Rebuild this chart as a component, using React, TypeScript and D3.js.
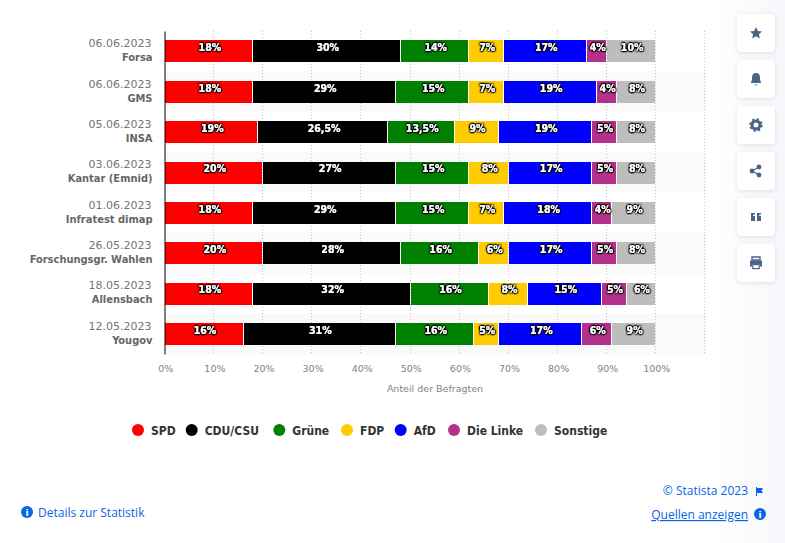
import React, { useEffect, useRef } from "react";
import { select, scaleLinear, scaleBand, stack, axisBottom, axisLeft, range } from "d3";

const width = 785,
  height = 543;

const dates = ["06.06.2023", "06.06.2023", "05.06.2023", "03.06.2023", "01.06.2023", "26.05.2023", "18.05.2023", "12.05.2023"];
const institutes = ["Forsa", "GMS", "INSA", "Kantar (Emnid)", "Infratest dimap", "Forschungsgr. Wahlen", "Allensbach", "Yougov"];

const parties = ["SPD", "CDU/CSU", "Grüne", "FDP", "AfD", "Die Linke", "Sonstige"];
const colors = ["#ff0000", "#000000", "#008000", "#ffcc00", "#0000ff", "#b3308b", "#bdbdbd"];

const spd = [18, 18, 19, 20, 18, 20, 18, 16];
const cdu = [30, 29, 26.5, 27, 29, 28, 32, 31];
const gruene = [14, 15, 13.5, 15, 15, 16, 16, 16];
const fdp = [7, 7, 9, 8, 7, 6, 8, 5];
const afd = [17, 19, 19, 17, 18, 17, 15, 17];
const linke = [4, 4, 5, 5, 4, 5, 5, 6];
const sonstige = [10, 8, 8, 8, 9, 8, 6, 9];
const seriesValues = [spd, cdu, gruene, fdp, afd, linke, sonstige];

const xTicks = [0, 10, 20, 30, 40, 50, 60, 70, 80, 90, 100];
const gridTicks = [10, 20, 30, 40, 50, 60, 70, 80, 90, 100, 110];
const legendX = [138, 191.7, 279.3, 347, 400.7, 454, 541];
const buttonY = [14, 60, 106, 152, 198, 244];

const FONT = "'DejaVu Sans', Verdana, sans-serif";
const BOLD = "'DejaVu Sans Condensed', 'DejaVu Sans', sans-serif";
const FOOT = "'Open Sans', sans-serif";
const BLUE = "#0666e5";
const ICON = "#4a6585";

const left = 165,
  right = 705.1,
  top = 31,
  bottom = 354;

function App() {
  const svgRef = useRef<SVGSVGElement>(null);

  useEffect(() => {
    const svg = select(svgRef.current);

    const xScale = scaleLinear().domain([0, 110]).range([left, right]);
    const yScale = scaleBand<number>().domain(range(institutes.length)).range([top, bottom]);

    // zebra rows
    svg.select(".bands")
      .selectAll("rect")
      .data(range(institutes.length).filter((i) => i % 2 === 1))
      .join("rect")
      .attr("x", 165)
      .attr("y", (i) => Math.round(yScale(i)!))
      .attr("width", right - 164)
      .attr("height", Math.round(yScale.bandwidth()) + 0.5)
      .attr("fill", "#fafafa");

    // dotted grid
    svg.select(".grid")
      .selectAll("line")
      .data(gridTicks)
      .join("line")
      .attr("x1", (d) => Math.round(xScale(d)) - 0.5)
      .attr("x2", (d) => Math.round(xScale(d)) - 0.5)
      .attr("y1", top)
      .attr("y2", bottom)
      .attr("stroke", "#c4c4c4")
      .attr("stroke-dasharray", "1 2");

    const rows = range(institutes.length).map((i) => {
      const row: Record<string, number> = {};
      parties.forEach((p, k) => (row[p] = seriesValues[k][i]));
      return row;
    });
    const stacked = stack<Record<string, number>>().keys(parties)(rows);

    const barH = 22;
    const groups = svg.select(".bars")
      .selectAll("g")
      .data(stacked)
      .join("g")
      .attr("fill", (_, k) => colors[k]);

    // one px white gap after each segment, snapped to the pixel grid
    groups.selectAll("rect")
      .data((s) => s.map((d, i) => ({ d, i })))
      .join("rect")
      .attr("x", ({ d }) => Math.round(xScale(d[0])))
      .attr("y", ({ i }) => Math.round(yScale(i)! + (yScale.bandwidth() - barH) / 2 + 0.2))
      .attr("width", ({ d }) => Math.round(xScale(d[1])) - Math.round(xScale(d[0])) - 1)
      .attr("height", barH);

    const labels = stacked.flatMap((s) =>
      s.map((d, i) => ({ value: d[1] - d[0], mid: (d[0] + d[1]) / 2, i }))
    );
    svg.select(".labels")
      .selectAll("text")
      .data(labels)
      .join("text")
      .attr("x", (d) => xScale(d.mid) + 0.7)
      .attr("y", (d) => yScale(d.i)! + yScale.bandwidth() / 2)
      .attr("text-anchor", "middle")
      .attr("fill", "#fff")
      .attr("font-family", BOLD)
      .attr("font-size", 10.5)
      .attr("font-weight", 700)
      .attr("filter", "url(#outline)")
      .text((d) => String(d.value).replace(".", ",") + "%");

    // y axis with date and institute
    const yAxis = axisLeft(yScale).tickSize(0).tickFormat(() => "");
    const yG = svg.select<SVGGElement>(".y-axis").attr("transform", "translate(164.5,0)").call(yAxis);
    yG.select(".domain").attr("stroke", "#000").attr("stroke-width", 1);
    yG.selectAll(".tick text").remove();
    yG.selectAll<SVGGElement, number>(".tick").each(function (i) {
      const t = select(this);
      t.append("text")
        .attr("x", -13)
        .attr("y", -4)
        .attr("text-anchor", "end")
        .attr("fill", "#757575")
        .attr("font-family", FONT)
        .attr("font-size", 11)
        .text(dates[i]);
      t.append("text")
        .attr("x", -12)
        .attr("y", 10)
        .attr("text-anchor", "end")
        .attr("fill", "#666")
        .attr("font-family", BOLD)
        .attr("font-size", 11)
        .attr("font-weight", 700)
        .text(institutes[i]);
    });

    // x axis
    const xAxis = axisBottom(xScale).tickValues(xTicks).tickSize(0).tickFormat((d) => d + "%");
    const xG = svg.select<SVGGElement>(".x-axis").attr("transform", `translate(0.3,${bottom})`).call(xAxis);
    xG.select(".domain").remove();
    xG.selectAll("text")
      .attr("y", 11)
      .attr("dy", "0.71em")
      .attr("fill", "#828282")
      .attr("font-family", FONT)
      .attr("font-size", 9.5);

    // legend
    const legend = svg.select(".legend")
      .selectAll("g")
      .data(parties)
      .join("g")
      .attr("transform", (_, k) => `translate(${legendX[k]},430)`);
    legend.selectAll("circle")
      .data((_, k) => [k] as any)
      .join("circle")
      .attr("r", 6)
      .attr("fill", (k: any) => colors[k]);
    legend.selectAll("text")
      .data((p) => [p])
      .join("text")
      .attr("x", 13)
      .attr("y", 4.5)
      .attr("fill", "#333")
      .attr("font-family", BOLD)
      .attr("font-size", 12)
      .attr("font-weight", 700)
      .text((p) => p);

    // sidebar buttons
    svg.select(".buttons")
      .selectAll("rect")
      .data(buttonY)
      .join("rect")
      .attr("x", 737)
      .attr("y", (d) => d)
      .attr("width", 38)
      .attr("height", 38)
      .attr("rx", 4)
      .attr("fill", "#fff")
      .attr("filter", "url(#btnShadow)");
  }, []);

  return (
    <svg ref={svgRef} width={width} height={height} style={{ position: "absolute", left: 0, top: 0, background: "#fff" }}>
      <defs>
        <linearGradient id="side" x1="0" x2="1" y1="0" y2="0">
          <stop offset="0" stopColor="#fff" />
          <stop offset="1" stopColor="#f5f7fa" />
        </linearGradient>
        <filter id="outline" x="-30%" y="-40%" width="160%" height="180%">
          <feGaussianBlur in="SourceAlpha" stdDeviation="1.1" result="blur" />
          <feComponentTransfer in="blur" result="dark">
            <feFuncA type="linear" slope="4" />
          </feComponentTransfer>
          <feMerge>
            <feMergeNode in="dark" />
            <feMergeNode in="SourceGraphic" />
          </feMerge>
        </filter>
        <filter id="btnShadow" x="-30%" y="-30%" width="160%" height="160%">
          <feDropShadow dx="0" dy="1" stdDeviation="2" floodColor="#8fa0b5" floodOpacity="0.3" />
        </filter>
      </defs>
      <rect x={715} y={0} width={70} height={height} fill="url(#side)" />
      <g className="bands" />
      <g className="grid" />
      <g className="bars" />
      <g className="labels" />
      <g className="y-axis" />
      <g className="x-axis" />
      <text x={435} y={392} textAnchor="middle" fill="#828282" fontFamily={FONT} fontSize={9.5}>
        Anteil der Befragten
      </text>
      <g className="legend" />
      <g className="buttons" />

      {/* sidebar icons */}
      <path transform="translate(756,33)" fill={ICON} d="M0,-6 L1.8,-2 L6,-1.6 L2.9,1.2 L3.8,5.4 L0,3.2 L-3.8,5.4 L-2.9,1.2 L-6,-1.6 L-1.8,-2 Z" />
      <path transform="translate(756,79)" fill={ICON} d="M0,-6 C3.2,-6 4,-3.5 4,-1 C4,1.5 5,3 5.2,4 L-5.2,4 C-5,3 -4,1.5 -4,-1 C-4,-3.5 -3.2,-6 0,-6 Z M-1.5,5.5 L1.5,5.5 L1.5,6.2 L-1.5,6.2 Z" />
      <g transform="translate(756,125)">
        <circle r={4} fill="none" stroke={ICON} strokeWidth={3} />
        <circle r={6} fill="none" stroke={ICON} strokeWidth={1.6} strokeDasharray="2.4 2.3" />
      </g>
      <g transform="translate(756,171)" fill={ICON} stroke={ICON}>
        <line x1={-4} y1={0} x2={3} y2={-4} strokeWidth={1.3} />
        <line x1={-4} y1={0} x2={3} y2={4} strokeWidth={1.3} />
        <circle cx={-4} cy={0} r={2.4} stroke="none" />
        <circle cx={3} cy={-4} r={2.4} stroke="none" />
        <circle cx={3} cy={4} r={2.4} stroke="none" />
      </g>
      <path transform="translate(756,217)" fill={ICON} d="M-5,-4 L-1,-4 L-1,-2.8 Q-3,-2.8 -3,-1 L-1,-1 L-1,4 L-5,4 Z M1,-4 L5,-4 L5,-2.8 Q3,-2.8 3,-1 L5,-1 L5,4 L1,4 Z" />
      <g transform="translate(756,263)" fill={ICON}>
        <path d="M-4,-6 L4,-6 L4,-3 L-4,-3 Z" fill="none" stroke={ICON} strokeWidth={1.4} />
        <path d="M-6,-2.5 L6,-2.5 L6,3.5 L4,3.5 L4,1 L-4,1 L-4,3.5 L-6,3.5 Z" />
        <rect x={-3.2} y={1.6} width={6.4} height={4} fill="none" stroke={ICON} strokeWidth={1.2} />
      </g>

      {/* footer */}
      <g transform="translate(27,512)">
        <circle r={6} fill={BLUE} />
        <text y={3.5} textAnchor="middle" fill="#fff" fontFamily={FONT} fontSize={9} fontWeight={700}>i</text>
      </g>
      <text x={38} y={517} fill={BLUE} fontFamily={FOOT} fontSize={12}>Details zur Statistik</text>
      <text x={748} y={495} textAnchor="end" fill={BLUE} fontFamily={FOOT} fontSize={12}>© Statista 2023</text>
      <path transform="translate(756,487)" fill={BLUE} d="M0,0 L1,0 L1,1 L7,1 L5.5,3.5 L7,6 L1,6 L1,9 L0,9 Z" />
      <text x={748} y={519} textAnchor="end" fill={BLUE} fontFamily={FOOT} fontSize={12} textDecoration="underline">Quellen anzeigen</text>
      <g transform="translate(760,514)">
        <circle r={6} fill={BLUE} />
        <text y={3.5} textAnchor="middle" fill="#fff" fontFamily={FONT} fontSize={9} fontWeight={700}>i</text>
      </g>
    </svg>
  );
}

export default App;
